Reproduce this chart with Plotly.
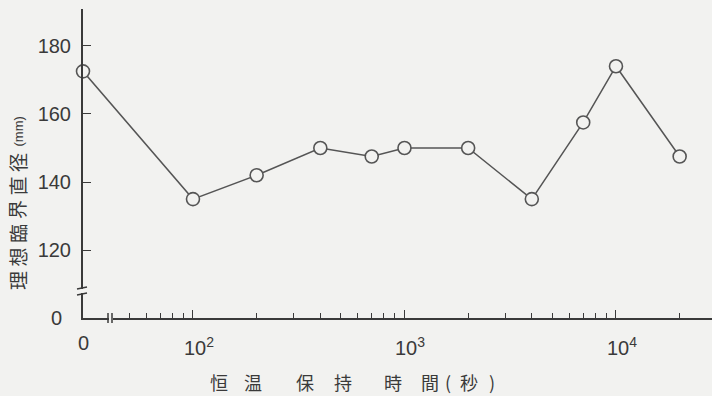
import math
import plotly.graph_objects as go

# Holding time at temperature (s) vs. ideal critical diameter (mm)
hold_time_s = [0, 100, 200, 400, 700, 1000, 2000, 4000, 7000, 10000, 20000]
ideal_dia_mm = [172.5, 135, 142, 150, 147.5, 150, 150, 135, 157.5, 174, 147.5]

y_tick_vals = [120, 140, 160, 180]
x_decades = [100, 1000, 10000]
x_decade_labels = ["10<sup>2</sup>", "10<sup>3</sup>", "10<sup>4</sup>"]
x_minor_ticks = [50, 60, 70, 80, 90,
                 200, 300, 400, 500, 600, 700, 800, 900,
                 2000, 3000, 4000, 5000, 6000, 7000, 8000, 9000,
                 20000]

# Broken axes: t = 0 is drawn at the left end of the log axis,
# and y = 0 sits on the bottom of the cut y axis.
X_LOG_MIN, X_LOG_MAX = 1.48, 4.454
Y_MIN, Y_MAX = 100.1, 190.8

W, H = 712, 396
M_L, M_R, M_T, M_B = 83, 0, 9, 78
PLOT_H = H - M_T - M_B

BG = "#f2f2f0"
INK = "#3a3a3a"
LINE = "#555555"
NUM_FONT = "Liberation Sans, Arial, sans-serif"
JP_FONT = "Noto Sans CJK JP, sans-serif"

x_plot = [10 ** X_LOG_MIN if t == 0 else t for t in hold_time_s]

fig = go.Figure(
    go.Scatter(
        x=x_plot,
        y=ideal_dia_mm,
        mode="lines+markers",
        line=dict(color=LINE, width=1.5),
        marker=dict(symbol="circle", size=13, color=BG,
                    line=dict(color=LINE, width=1.6)),
        cliponaxis=False,
        showlegend=False,
    )
)


def py_to_paper(py):
    return (H - M_B - py) / PLOT_H


annotations = []

# y-axis title, one glyph per slot (bottom to top)
y_title = [("理", 281), ("想", 257.5), ("臨", 234), ("界", 210),
           ("直", 186.5), ("径", 163)]
for ch, py in y_title:
    annotations.append(dict(text=ch, xref="paper", yref="paper", x=0,
                            xshift=-66, y=py_to_paper(py), showarrow=False,
                            textangle=-90, xanchor="center", yanchor="middle",
                            font=dict(family=JP_FONT, size=19, color=INK)))
annotations.append(dict(text="(mm)", xref="paper", yref="paper", x=0,
                        xshift=-65, y=py_to_paper(131.5), showarrow=False,
                        textangle=-90, xanchor="center", yanchor="middle",
                        font=dict(family=NUM_FONT, size=13, color=INK)))

# x-axis title pieces
x_title = [("恒", 218.5), ("温", 252.5), ("保", 305), ("持", 342.5),
           ("時", 392.5), ("間", 430), ("(", 448), ("秒", 469), (")", 492)]
for ch, px in x_title:
    annotations.append(dict(text=ch, xref="paper", yref="paper",
                            x=(px - M_L) / (W - M_L - M_R), y=0, yshift=-64,
                            showarrow=False, xanchor="center",
                            yanchor="middle",
                            font=dict(family=JP_FONT, size=18, color=INK)))

# zero labels at the broken ends of both axes
annotations.append(dict(text="0", xref="paper", yref="paper", x=0, y=0,
                        xshift=-19, xanchor="right", yanchor="middle",
                        showarrow=False,
                        font=dict(family=NUM_FONT, size=20, color=INK)))
annotations.append(dict(text="0", xref="paper", yref="paper", x=0, y=0,
                        yshift=-25, xanchor="center", yanchor="middle",
                        showarrow=False,
                        font=dict(family=NUM_FONT, size=20, color=INK)))

# decade labels: the "10" is centred on its tick
for v, lab in zip(x_decades, x_decade_labels):
    annotations.append(dict(text=lab, xref="x", yref="paper",
                            x=math.log10(v), y=0, yshift=-14,
                            xanchor="left", xshift=-11, yanchor="top",
                            showarrow=False,
                            font=dict(family=NUM_FONT, size=20, color=INK)))

# axis break marks
shapes = []
xb = (110 - M_L) / (W - M_L - M_R)
shapes.append(dict(type="line", xref="paper", yref="paper",
                   xsizemode="pixel", ysizemode="pixel", xanchor=xb, yanchor=0,
                   x0=-1, x1=3, y0=0, y1=0, line=dict(color=BG, width=4)))
for dx in (-2, 2):
    shapes.append(dict(type="line", xref="paper", yref="paper",
                       xsizemode="pixel", ysizemode="pixel", xanchor=xb,
                       yanchor=0, x0=dx, x1=dx, y0=-5, y1=5,
                       line=dict(color=INK, width=1.5)))
yb = py_to_paper(291)
shapes.append(dict(type="line", xref="paper", yref="paper",
                   xsizemode="pixel", ysizemode="pixel", xanchor=0, yanchor=yb,
                   x0=-1, x1=-1, y0=-2, y1=2, line=dict(color=BG, width=4)))
for dy in (-3, 3):
    shapes.append(dict(type="line", xref="paper", yref="paper",
                       xsizemode="pixel", ysizemode="pixel", xanchor=0,
                       yanchor=yb, x0=-6, x1=4, y0=dy - 1, y1=dy + 1,
                       line=dict(color=INK, width=1.5)))

fig.update_layout(
    width=W, height=H,
    margin=dict(l=M_L, r=M_R, t=M_T, b=M_B),
    paper_bgcolor=BG, plot_bgcolor=BG,
    annotations=annotations,
    shapes=shapes,
    xaxis=dict(
        type="log", range=[X_LOG_MIN, X_LOG_MAX],
        showline=True, linecolor=INK, linewidth=2,
        showgrid=False, zeroline=False,
        tickmode="array", tickvals=x_decades, showticklabels=False,
        ticks="inside", ticklen=8, tickwidth=1.3, tickcolor=INK,
        minor=dict(tickmode="array", tickvals=x_minor_ticks,
                   ticks="inside", ticklen=5, tickwidth=1.2,
                   tickcolor=INK, showgrid=False),
    ),
    yaxis=dict(
        range=[Y_MIN, Y_MAX],
        showline=True, linecolor=INK, linewidth=2,
        showgrid=False, zeroline=False,
        tickmode="array", tickvals=y_tick_vals,
        ticks="inside", ticklen=8, tickwidth=1.3, tickcolor=INK,
        ticklabelstandoff=6,
        tickfont=dict(family=NUM_FONT, size=20, color=INK),
    ),
)

fig.write_html("out.html")
